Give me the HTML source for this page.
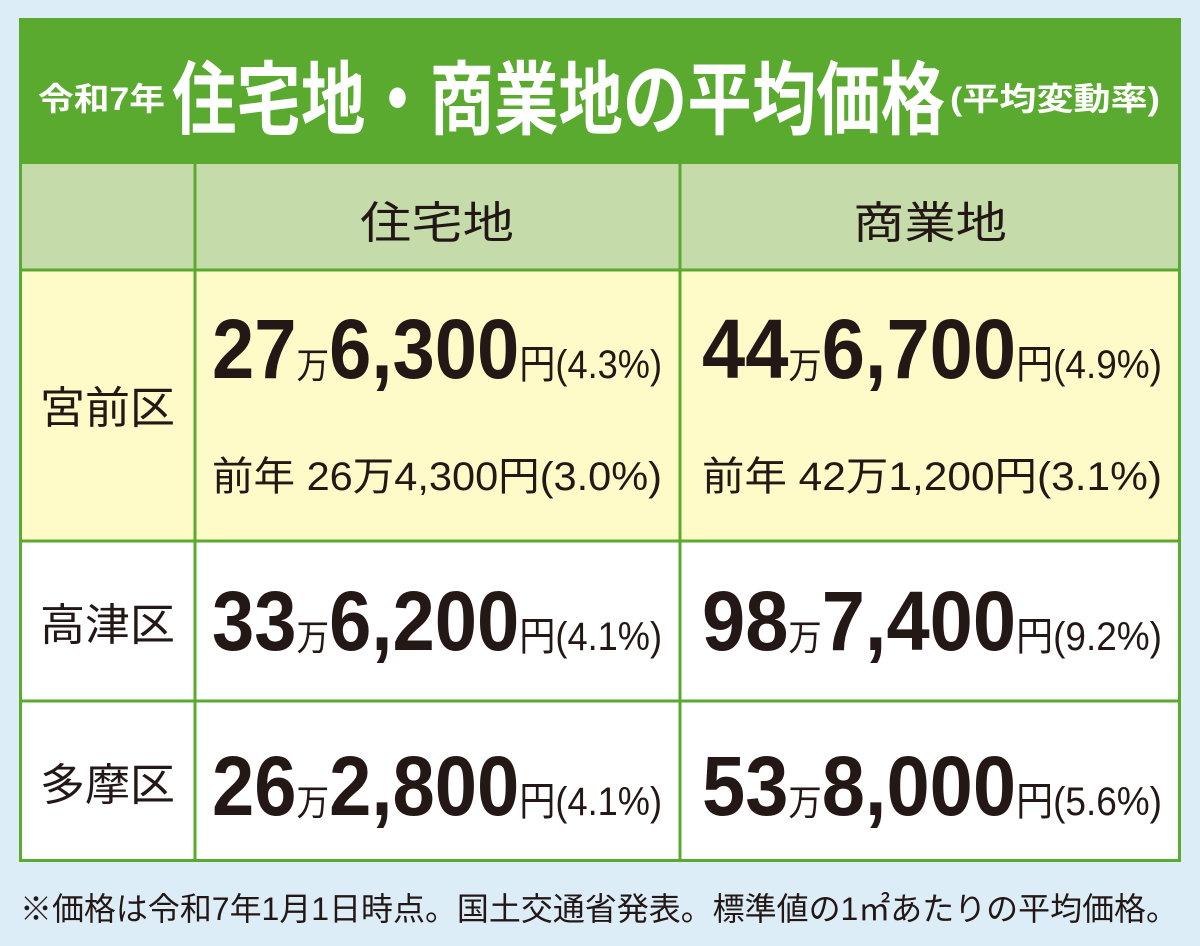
<!DOCTYPE html>
<html><head><meta charset="utf-8"><style>
html,body{margin:0;padding:0;background:#dcedf8;}
svg{display:block}
text{font-family:"Liberation Sans","Noto Sans CJK JP",sans-serif;}
</style></head><body>
<svg width="1200" height="946" viewBox="0 0 1200 946" xmlns="http://www.w3.org/2000/svg">
<rect width="1200" height="946" fill="#dcedf8"/>
<rect x="19" y="18" width="1162" height="146" fill="#5aaa30"/>
<rect x="19" y="164" width="1162" height="106" fill="#c5dcaa"/>
<rect x="19" y="270" width="1162" height="271" fill="#fffbc8"/>
<rect x="19" y="541" width="1162" height="321" fill="#ffffff"/>
<g stroke="#5aaa30" stroke-width="3" fill="none">
<rect x="20.5" y="19.5" width="1159" height="841"/>
<line x1="195" y1="164" x2="195" y2="861"/>
<line x1="680" y1="164" x2="680" y2="861"/>
<line x1="20" y1="270" x2="1180" y2="270"/>
<line x1="20" y1="541" x2="1180" y2="541"/>
<line x1="20" y1="701" x2="1180" y2="701"/>
</g>
<g fill="#fff" font-weight="bold">
<text x="38" y="110" font-size="32" textLength="127" lengthAdjust="spacingAndGlyphs">令和7年</text>
<text x="172" y="128" font-size="80" textLength="773" lengthAdjust="spacingAndGlyphs">住宅地・商業地の平均価格</text>
<text x="950" y="110" font-size="32" textLength="210" lengthAdjust="spacingAndGlyphs">(平均変動率)</text>
</g>
<g fill="#231815" font-size="44">
<text x="360" y="238" textLength="154" lengthAdjust="spacingAndGlyphs">住宅地</text>
<text x="853" y="238" textLength="154" lengthAdjust="spacingAndGlyphs">商業地</text>
<text x="40" y="423" textLength="135" lengthAdjust="spacingAndGlyphs">宮前区</text>
<text x="40" y="640" textLength="135" lengthAdjust="spacingAndGlyphs">高津区</text>
<text x="40" y="800" textLength="135" lengthAdjust="spacingAndGlyphs">多摩区</text>
</g>
<g fill="#231815">
<text x="212" y="378" textLength="450" lengthAdjust="spacingAndGlyphs"><tspan font-size="84" font-weight="bold">27</tspan><tspan font-size="36">万</tspan><tspan font-size="84" font-weight="bold">6,300</tspan><tspan font-size="40">円(4.3%)</tspan></text>
<text x="702" y="378" textLength="460" lengthAdjust="spacingAndGlyphs"><tspan font-size="84" font-weight="bold">44</tspan><tspan font-size="36">万</tspan><tspan font-size="84" font-weight="bold">6,700</tspan><tspan font-size="40">円(4.9%)</tspan></text>
<text x="212" y="490" font-size="40" textLength="450" lengthAdjust="spacingAndGlyphs">前年 26万4,300円(3.0%)</text>
<text x="702" y="490" font-size="40" textLength="460" lengthAdjust="spacingAndGlyphs">前年 42万1,200円(3.1%)</text>
<text x="212" y="650" textLength="450" lengthAdjust="spacingAndGlyphs"><tspan font-size="84" font-weight="bold">33</tspan><tspan font-size="36">万</tspan><tspan font-size="84" font-weight="bold">6,200</tspan><tspan font-size="40">円(4.1%)</tspan></text>
<text x="702" y="650" textLength="460" lengthAdjust="spacingAndGlyphs"><tspan font-size="84" font-weight="bold">98</tspan><tspan font-size="36">万</tspan><tspan font-size="84" font-weight="bold">7,400</tspan><tspan font-size="40">円(9.2%)</tspan></text>
<text x="212" y="815" textLength="450" lengthAdjust="spacingAndGlyphs"><tspan font-size="84" font-weight="bold">26</tspan><tspan font-size="36">万</tspan><tspan font-size="84" font-weight="bold">2,800</tspan><tspan font-size="40">円(4.1%)</tspan></text>
<text x="702" y="815" textLength="460" lengthAdjust="spacingAndGlyphs"><tspan font-size="84" font-weight="bold">53</tspan><tspan font-size="36">万</tspan><tspan font-size="84" font-weight="bold">8,000</tspan><tspan font-size="40">円(5.6%)</tspan></text>
<text x="20" y="920" font-size="32" textLength="1158" lengthAdjust="spacingAndGlyphs">※価格は令和7年1月1日時点。国土交通省発表。標準値の1㎡あたりの平均価格。</text>
</g>
</svg>
</body></html>
